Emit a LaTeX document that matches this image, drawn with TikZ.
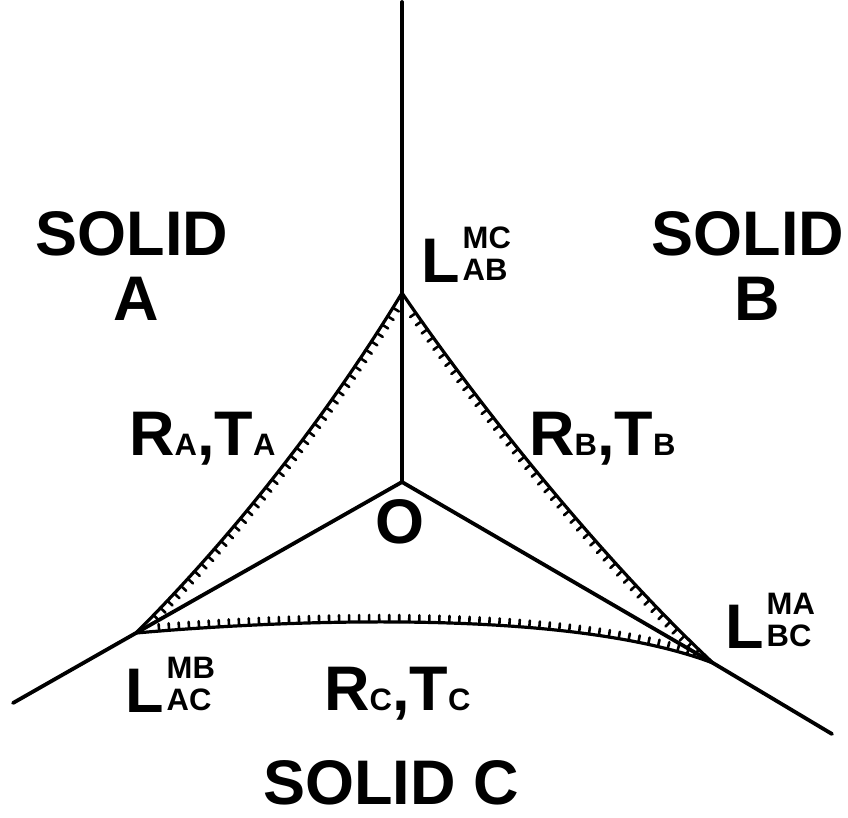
\documentclass[tikz,border=0pt]{standalone}
\usepackage{fontspec}
\setmainfont{Liberation Sans}
\usetikzlibrary{decorations.markings}
\newcommand\BigTxt{\fontsize{63}{63}\selectfont\bfseries}
\newcommand\SmTxt{\fontsize{31}{31}\selectfont\bfseries}
\newcommand\Lsym[2]{{\BigTxt L}\kern3pt\rlap{\raisebox{34pt}{\SmTxt #1}}\raisebox{2pt}{\SmTxt #2}}
\newcommand\RT[1]{{\BigTxt R}{\SmTxt #1}{\BigTxt ,T}{\SmTxt #1}}
\begin{document}
\begin{tikzpicture}[x=1pt,y=-1pt,
  mainline/.style={line width=3.8pt,line cap=round,line join=round},
  curveline/.style={line width=3.2pt,line cap=round},
  hatch/.style={postaction={decorate},decoration={markings,
     mark=between positions 0.04 and 0.96 step 10pt with {\draw[line width=2.6pt,line cap=round] (0,0) -- (0,#1);}}},
  hatch/.default=7pt,
  lab/.style={inner sep=0pt,font=\BigTxt}]
\useasboundingbox (0,0) rectangle (848,817);
% vertices
\coordinate (Top) at (402,2);
\coordinate (T) at (402,293);
\coordinate (O) at (402,482);
\coordinate (L) at (136,633);
\coordinate (R) at (713,663);
\coordinate (Lend) at (13,703);
\coordinate (Rend) at (832,734);
% straight lines
\draw[mainline] (Top) -- (O);
\draw[mainline] (O) -- (L) -- (Lend);
\draw[mainline] (O) -- (R) -- (Rend);
% curved boundaries with hatching
\draw[curveline,hatch] (T) .. controls (329,413) and (236,533) .. (L);
\draw[curveline,hatch] (R) .. controls (606,563) and (484,413) .. (T);
\draw[curveline,hatch] (L) .. controls (260,622) and (560,605) .. (R);
% labels
\node[lab,anchor=base] (sa) at (132,255) {SOLID};
\node[lab,anchor=base] (sa2) at (136,320) {A};
\node[lab,anchor=base] (sb) at (748,255) {SOLID};
\node[lab,anchor=base] (sb2) at (757,320) {B};
\node[lab,anchor=base] (sc) at (391,804) {SOLID C};
\node[lab,anchor=base] (o) at (400,543) {O};
\node[lab,anchor=base west] (lab) at (421,282) {\Lsym{MC}{AB}};
\node[lab,anchor=base west] (lbc) at (725,648) {\Lsym{MA}{BC}};
\node[lab,anchor=base west] (lac) at (125,712) {\Lsym{MB}{AC}};
\node[lab,anchor=base west] (rta) at (129,455) {\RT{A}};
\node[lab,anchor=base west] (rtb) at (529,455) {\RT{B}};
\node[lab,anchor=base west] (rtc) at (324,710) {\RT{C}};
\end{tikzpicture}
\end{document}
